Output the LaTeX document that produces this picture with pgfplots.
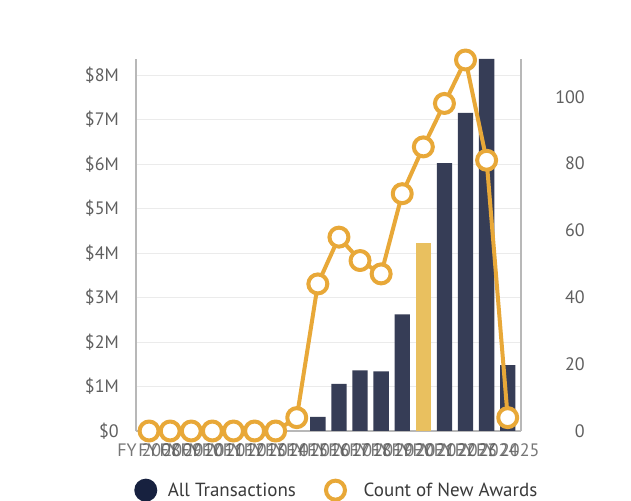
\documentclass[border=0pt]{standalone}
\usepackage{pgfplots}
\pgfplotsset{compat=1.18}
\usepackage{pgfplotstable}
\usepackage{fontspec}
\setmainfont{PT Sans}
\definecolor{navy}{HTML}{363D56}
\definecolor{navyleg}{HTML}{17213F}
\definecolor{gold}{HTML}{E9C05F}
\definecolor{linec}{HTML}{E8A838}
\definecolor{gridc}{HTML}{EBEBEB}
\definecolor{axc}{HTML}{B8B8B8}
\definecolor{tickc}{HTML}{5F5F5F}
\definecolor{legtext}{HTML}{3A3A3A}

% All Transactions ($M), index 0 = FY 2008
\pgfplotstableread{
x val
8 0.32
9 1.06
10 1.36
11 1.34
12 2.62
14 6.02
15 7.15
16 8.36
17 1.48
}\navybars
\pgfplotstableread{
x val
13 4.23
}\goldbars
% Count of New Awards
\pgfplotstableread{
x val
0 0
1 0
2 0
3 0
4 0
5 0
6 0
7 4
8 44
9 58
10 51
11 47
12 71
13 85
14 98
15 111
16 81
17 4
}\awards

\begin{document}
\begin{tikzpicture}[x=1pt,y=1pt]
\fill[white] (0,0) rectangle (631,500);
\useasboundingbox (0,0) rectangle (631,500);
\begin{axis}[
  at={(136pt,69pt)}, anchor=south west,
  width=385pt, height=372pt, scale only axis,
  xmin=-0.62, xmax=17.63, ymin=0, ymax=8.36,
  axis y line*=left, axis x line*=bottom,
  axis line style={axc, line width=1.2pt, -},
  /pgf/number format/assume math mode=true,
  xtick={0,...,17},
  xticklabels={FY 2008,FY 2009,FY 2010,FY 2011,FY 2012,FY 2013,FY 2014,FY 2015,FY 2016,FY 2017,FY 2018,FY 2019,FY 2020,FY 2021,FY 2022,FY 2023,FY 2024,FY 2025},
  ytick={0,...,8},
  yticklabels={\$0,\$1M,\$2M,\$3M,\$4M,\$5M,\$6M,\$7M,\$8M},
  ymajorgrids, grid style={gridc, line width=1pt},
  major tick length=0pt,
  tick label style={font=\fontsize{18}{18}\selectfont, text=tickc},
  yticklabel style={anchor=east, inner sep=0pt, xshift=-17pt},
  xticklabel style={anchor=north, inner sep=0pt, yshift=-12.5pt, text opacity=0.85},
  legend style={at={(axis description cs:-0.005,-0.159)}, anchor=west,
    draw=none, fill=none, inner sep=0pt, legend columns=2,
    font=\fontsize{19}{19}\selectfont, text=legtext,
    nodes={inner sep=0pt},
    /tikz/every even column/.append style={column sep=28pt}},
]
\addplot[ybar, bar width=15.3pt, bar shift=0pt, fill=navy, draw=none,
  legend image code/.code={\fill[navyleg] (11.5pt,0pt) circle (11.5pt); \path (33.5pt,0pt);}]
  table[x=x, y=val] {\navybars};
\addlegendentry{All Transactions}
\addplot[ybar, bar width=15.3pt, bar shift=0pt, fill=gold, draw=none, forget plot]
  table[x=x, y=val] {\goldbars};
\addlegendimage{legend image code/.code={\draw[linec, line width=4pt] (11.5pt,0pt) circle (9.5pt); \path (39.5pt,0pt);}}
\addlegendentry{Count of New Awards}
\end{axis}
\begin{axis}[
  at={(136pt,69pt)}, anchor=south west,
  width=385pt, height=372pt, scale only axis,
  xmin=-0.62, xmax=17.63, ymin=0, ymax=111.3,
  axis y line*=right, axis x line=none,
  axis line style={axc, line width=1.2pt, -},
  /pgf/number format/assume math mode=true,
  ytick={0,20,...,100},
  major tick length=0pt,
  tick label style={font=\fontsize{18}{18}\selectfont, text=tickc},
  yticklabel style={anchor=east, inner sep=0pt, xshift=64pt},
  clip=false,
]
\addplot[linec, line width=4pt, line join=round, mark=*, mark size=9.5pt,
  mark options={fill=white, draw=linec, line width=4pt}]
  table[x=x, y=val] {\awards};
\end{axis}
\end{tikzpicture}
\end{document}
